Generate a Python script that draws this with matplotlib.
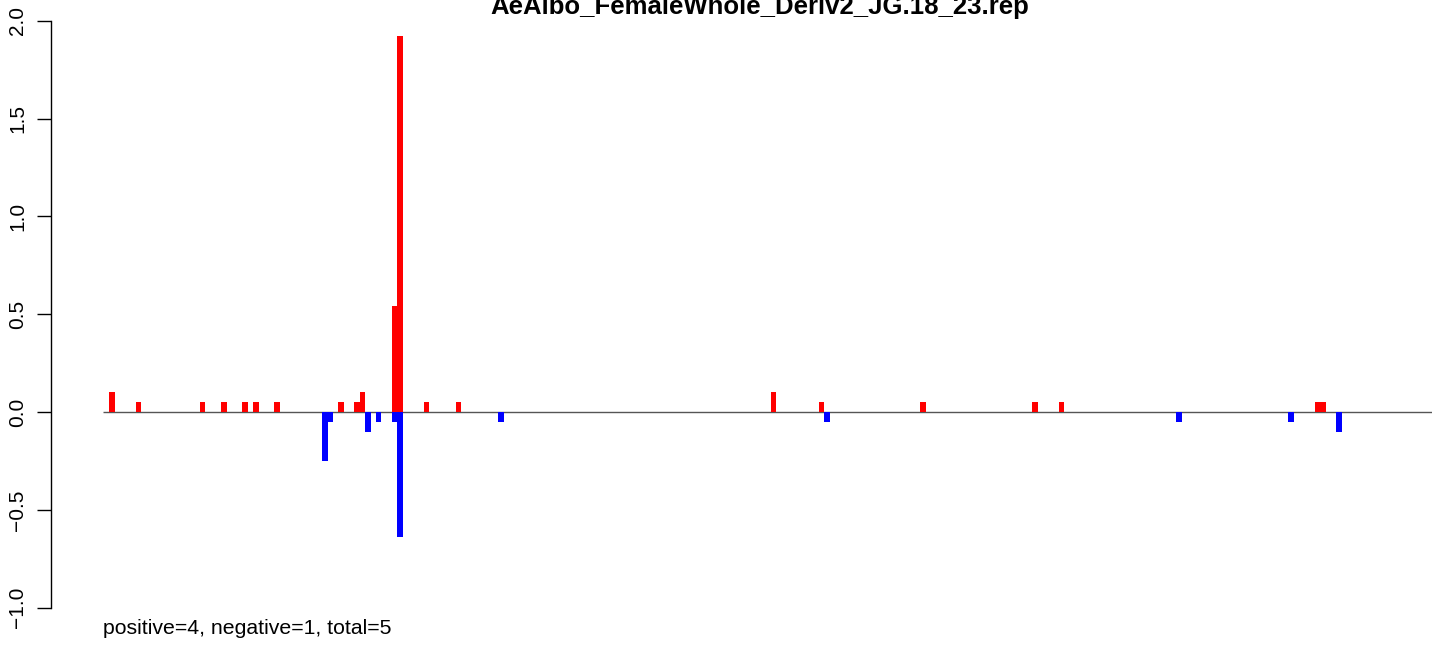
import matplotlib
matplotlib.use("Agg")
import matplotlib.pyplot as plt

plt.rcParams['font.family'] = ['Liberation Sans', 'DejaVu Sans']

title = "AeAlbo_FemaleWhole_Deriv2_JG.18_23.rep"
footer = "positive=4, negative=1, total=5"

# bin index and value of positive (red) bars
pos_bins = [0, 5, 17, 21, 25, 27, 31, 43, 46, 47, 53, 54, 59, 65,
            124, 133, 152, 173, 178, 226, 227]
pos_vals = [0.10, 0.05, 0.05, 0.05, 0.05, 0.05, 0.05, 0.05, 0.05, 0.10,
            0.54, 1.92, 0.05, 0.05, 0.10, 0.05, 0.05, 0.05, 0.05, 0.05, 0.05]

# bin index and value of negative (blue) bars
neg_bins = [40, 41, 48, 50, 53, 54, 73, 134, 200, 221, 230]
neg_vals = [-0.25, -0.05, -0.10, -0.05, -0.05, -0.64, -0.05, -0.05,
            -0.05, -0.05, -0.10]

y_ticks = [-1.0, -0.5, 0.0, 0.5, 1.0, 1.5, 2.0]
y_tick_labels = ["\u22121.0", "\u22120.5", "0.0", "0.5", "1.0", "1.5", "2.0"]

W, H = 1444, 645
fig = plt.figure(figsize=(W / 100, H / 100), dpi=100)

ax_left, ax_right = 50.7, 1432.3
ax_top, ax_bottom = 20.7, 607.7
ax = fig.add_axes([ax_left / W, 1 - ax_bottom / H,
                   (ax_right - ax_left) / W, (ax_bottom - ax_top) / H])

x_min, x_max = -10.93, 248.04
ax.set_xlim(x_min, x_max)
ax.set_ylim(-1.0, 2.0)

ax.hlines(0, -1.07, x_max, color='#555555', lw=1.0, zorder=1)
ax.bar(pos_bins, pos_vals, width=1.05, align='edge', color='#ff0000',
       linewidth=0, zorder=2)
ax.bar(neg_bins, neg_vals, width=1.05, align='edge', color='#0000ff',
       linewidth=0, zorder=2)

for s in ['top', 'right', 'bottom']:
    ax.spines[s].set_visible(False)
ax.spines['left'].set_bounds(-1.0, 2.0)
ax.spines['left'].set_linewidth(1.0)
ax.set_xticks([])
ax.set_yticks(y_ticks)
ax.set_yticklabels(y_tick_labels, rotation=90, va='center', fontsize=15)
ax.tick_params(axis='y', length=9.9, width=1.0, pad=7.0)

fig.text(760 / W, 1 - 14 / H, title, ha='center', va='baseline',
         fontweight='bold', fontsize=18.5)
fig.text(103 / W, 1 - 634 / H, footer, ha='left', va='baseline',
         fontsize=15.3)

fig.savefig("out.png", dpi=100)
